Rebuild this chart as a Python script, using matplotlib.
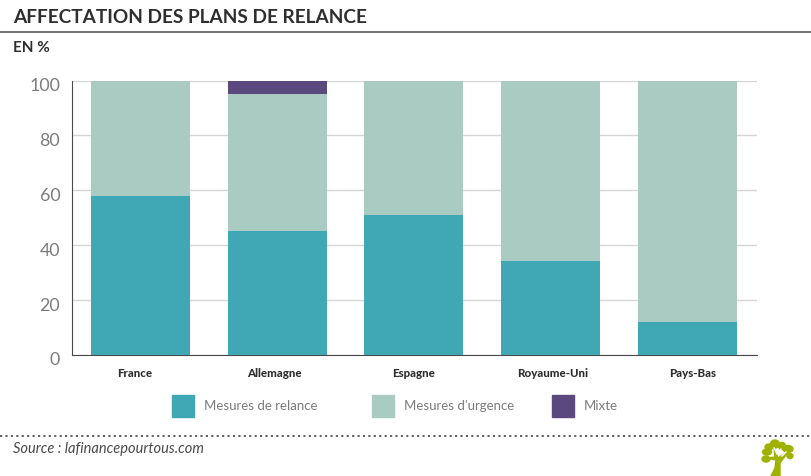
import matplotlib
matplotlib.use("Agg")
from matplotlib import pyplot as plt
from matplotlib.lines import Line2D
from matplotlib.patches import Ellipse, Polygon, Rectangle
from matplotlib.transforms import ScaledTranslation
import numpy as np

W, H = 812, 477

pays = ["France", "Allemagne", "Espagne", "Royaume-Uni", "Pays-Bas"]
relance = [58, 45, 51, 34, 12]
urgence = [42, 50, 49, 66, 88]
mixte = [0, 5, 0, 0, 0]
yticks = [0, 20, 40, 60, 80, 100]

c_relance = "#40a8b4"
c_urgence = "#a9cbc1"
c_mixte = "#59497f"
c_text = "#2e2e2e"
c_grey = "#7c7c7c"

plt.rcParams["font.family"] = ["Lato", "DejaVu Sans"]

fig = plt.figure(figsize=(W / 100, H / 100), dpi=100)

def box(l, t, r, b):
    return [l / W, 1 - b / H, (r - l) / W, (b - t) / H]

ax = fig.add_axes(box(72, 81.5, 757, 355.5))
x = np.arange(len(pays))
w = 99 / 136.75
bottom2 = np.array(relance) + np.array(urgence)
ax.bar(x, relance, w, color=c_relance, zorder=3)
ax.bar(x, urgence, w, bottom=relance, color=c_urgence, zorder=3)
ax.bar(x, mixte, w, bottom=bottom2, color=c_mixte, zorder=3)

ax.set_xlim(-0.5, 4.51)
ax.set_ylim(0, 100)
ax.set_yticks(yticks)
ax.set_xticks(x)
ax.set_xticklabels(pays, fontsize=8.3, fontweight="black", color=c_text)
ax.tick_params(axis="x", length=0, pad=9)
ax.tick_params(axis="y", length=0, pad=8.5, labelsize=12.8, labelcolor=c_grey)
# labels in the reference drift left of the bar centres and sit a bit low
for lab, dx in zip(ax.get_xticklabels(), [-5.5, -3, 0, 2.5, 5]):
    lab.set_transform(lab.get_transform() + ScaledTranslation(dx / 100, 0, fig.dpi_scale_trans))
for lab in ax.get_yticklabels():
    lab.set_transform(lab.get_transform() + ScaledTranslation(0, -3.5 / 100, fig.dpi_scale_trans))
ax.grid(axis="y", color="#d6d6d6", lw=1, zorder=0)
ax.spines["top"].set_visible(False)
ax.spines["right"].set_visible(False)
ax.spines["left"].set_color("#4a4a4a")
ax.spines["bottom"].set_color("#4a4a4a")

# pixel helpers for the page furniture
def px(xp):
    return xp / W

def py(yp):
    return 1 - yp / H

fig.text(px(13), py(17.5), "AFFECTATION DES PLANS DE RELANCE", fontsize=13.7,
         fontweight="bold", color=c_text, va="center")
fig.add_artist(Line2D([0, 1], [py(32.5), py(32.5)], color="#555555", lw=1.2))
fig.text(px(13), py(47.5), "EN %", fontsize=11, fontweight="bold",
         color=c_text, va="center")

# legend
legend_items = [(172, "Mesures de relance", c_relance),
                (372, "Mesures d'urgence", c_urgence),
                (552, "Mixte", c_mixte)]
for lx, name, col in legend_items:
    fig.add_artist(Rectangle((px(lx), py(417.5)), 22 / W, 22 / H, color=col,
                             transform=fig.transFigure))
    fig.text(px(lx + 32), py(406.5), name, fontsize=9.5, color=c_grey, va="center")

fig.add_artist(Line2D([0, 1], [py(436.5), py(436.5)], color="#555555", lw=1.3,
                      ls=(0, (1.2, 1.8))))
fig.text(px(13), py(449.5), "Source : lafinancepourtous.com", fontsize=10.5,
         fontstyle="italic", color="#4a4a4a", va="center")

# tree logo
green = "#9fb200"
leaves = [(775, 445, 9, 8), (782, 447, 7, 7), (788, 450, 10, 7), (769, 448, 8, 6),
          (767, 453, 9, 6), (790, 457, 6, 5), (766, 460, 8, 6)]
for cx, cy, ew, eh in leaves:
    fig.add_artist(Ellipse((px(cx), py(cy)), ew / W, eh / H, color=green,
                           transform=fig.transFigure))
trunk = [(771, 477), (780, 477), (780, 464), (789, 452), (778, 459), (774, 449),
         (775, 458), (767, 459), (776, 461), (775, 469)]
fig.add_artist(Polygon([(px(a), py(b)) for a, b in trunk], color=green,
                       transform=fig.transFigure))
# pale gaps between the branches
for a, b in [((774, 449), (777, 455)), ((781, 450), (779, 455)), ((786, 453), (782, 457))]:
    fig.add_artist(Line2D([px(a[0]), px(b[0])], [py(a[1]), py(b[1])], color="white", lw=1))

fig.savefig("out.png", dpi=100)
